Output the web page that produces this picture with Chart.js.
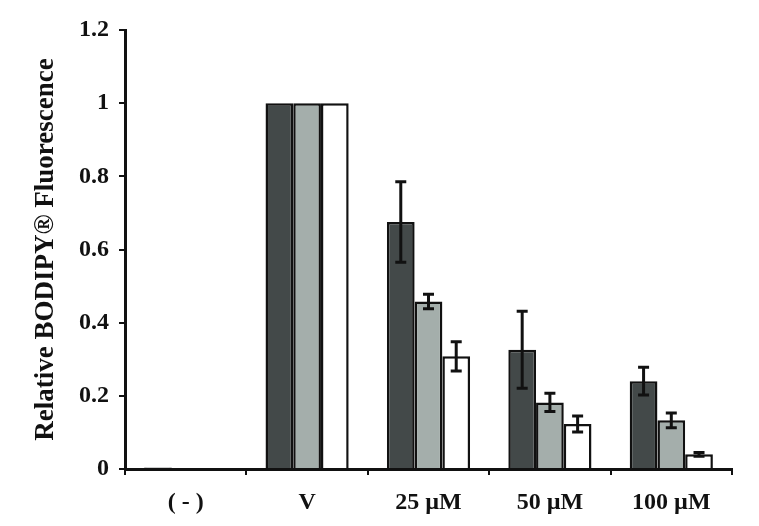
<!DOCTYPE html>
<html>
<head>
<meta charset="utf-8">
<script src="https://cdn.jsdelivr.net/npm/chart.js@4"></script>
<style>
  html, body { margin: 0; padding: 0; background: #fff; }
  #wrap { width: 759px; height: 526px; }
</style>
</head>
<body>
<div id="wrap"><canvas id="chart" width="759" height="526"></canvas></div>
<script>
const categories = ['( - )', 'V', '25 \u00b5M', '50 \u00b5M', '100 \u00b5M'];
const darkValues = [0.004, 1, 0.675, 0.326, 0.24];
const darkErrors = [0, 0, 0.11, 0.105, 0.038];
const lightValues = [0, 1, 0.458, 0.182, 0.133];
const lightErrors = [0, 0, 0.02, 0.025, 0.02];
const whiteValues = [0, 1, 0.308, 0.123, 0.04];
const whiteErrors = [0, 0, 0.04, 0.022, 0.005];
const yTicks = [0, 0.2, 0.4, 0.6, 0.8, 1, 1.2];

const serif = '"Liberation Serif", "Times New Roman", serif';

// error bars drawn from the y scale
const errorBars = {
  id: 'errorBars',
  afterDatasetsDraw(chart) {
    const ctx = chart.ctx;
    const y = chart.scales.y;
    chart.data.datasets.forEach((ds, di) => {
      const meta = chart.getDatasetMeta(di);
      ds.values.forEach((v, i) => {
        const e = ds.errors[i];
        if (!e) return;
        const x = meta.data[i].x;
        const top = y.getPixelForValue(v + e);
        const bot = y.getPixelForValue(v - e);
        ctx.save();
        ctx.strokeStyle = '#111';
        ctx.lineWidth = 3;
        ctx.beginPath();
        ctx.moveTo(x, top); ctx.lineTo(x, bot);
        ctx.moveTo(x - 5.5, top); ctx.lineTo(x + 5.5, top);
        ctx.moveTo(x - 5.5, bot); ctx.lineTo(x + 5.5, bot);
        ctx.stroke();
        ctx.restore();
      });
    });
  }
};

const ctx = document.getElementById('chart').getContext('2d');
new Chart(ctx, {
  type: 'bar',
  data: {
    labels: categories,
    datasets: [
      { data: darkValues, values: darkValues, errors: darkErrors, backgroundColor: '#434949' },
      { data: lightValues, values: lightValues, errors: lightErrors, backgroundColor: '#a4aeab' },
      { data: whiteValues, values: whiteValues, errors: whiteErrors, backgroundColor: '#ffffff' }
    ].map(d => Object.assign(d, {
      borderColor: '#111',
      borderWidth: 2.5,
      borderSkipped: 'start',
      categoryPercentage: 0.685,
      barPercentage: 1
    }))
  },
  options: {
    responsive: false,
    animation: false,
    layout: { padding: { top: 30, right: 27, left: 0, bottom: 0 } },
    plugins: { legend: { display: false }, tooltip: { enabled: false } },
    scales: {
      x: {
        afterFit: s => { s.height = 57; },
        border: { display: true, color: '#111', width: 3 },
        grid: { offset: true, drawOnChartArea: false, drawTicks: true, tickLength: 6, color: '#111', lineWidth: 2 },
        ticks: { color: '#111', padding: 13, font: { family: serif, size: 24, weight: 'bold' } }
      },
      y: {
        min: 0,
        max: 1.2,
        afterFit: s => { s.width = 125; },
        afterBuildTicks: s => { s.ticks = yTicks.map(v => ({ value: v })); },
        border: { display: true, color: '#111', width: 3 },
        grid: { drawOnChartArea: false, drawTicks: true, tickLength: 6, color: '#111', lineWidth: 2 },
        ticks: {
          color: '#111',
          padding: 10,
          font: { family: serif, size: 24, weight: 'bold' },
          callback: v => String(Math.round(v * 10) / 10)
        },
        title: {
          display: true,
          text: 'Relative BODIPY\u00ae Fluorescence',
          color: '#111',
          padding: { top: 30, bottom: 0 },
          font: { family: serif, size: 27, weight: 'bold' }
        }
      }
    }
  },
  plugins: [errorBars]
});
</script>
</body>
</html>
